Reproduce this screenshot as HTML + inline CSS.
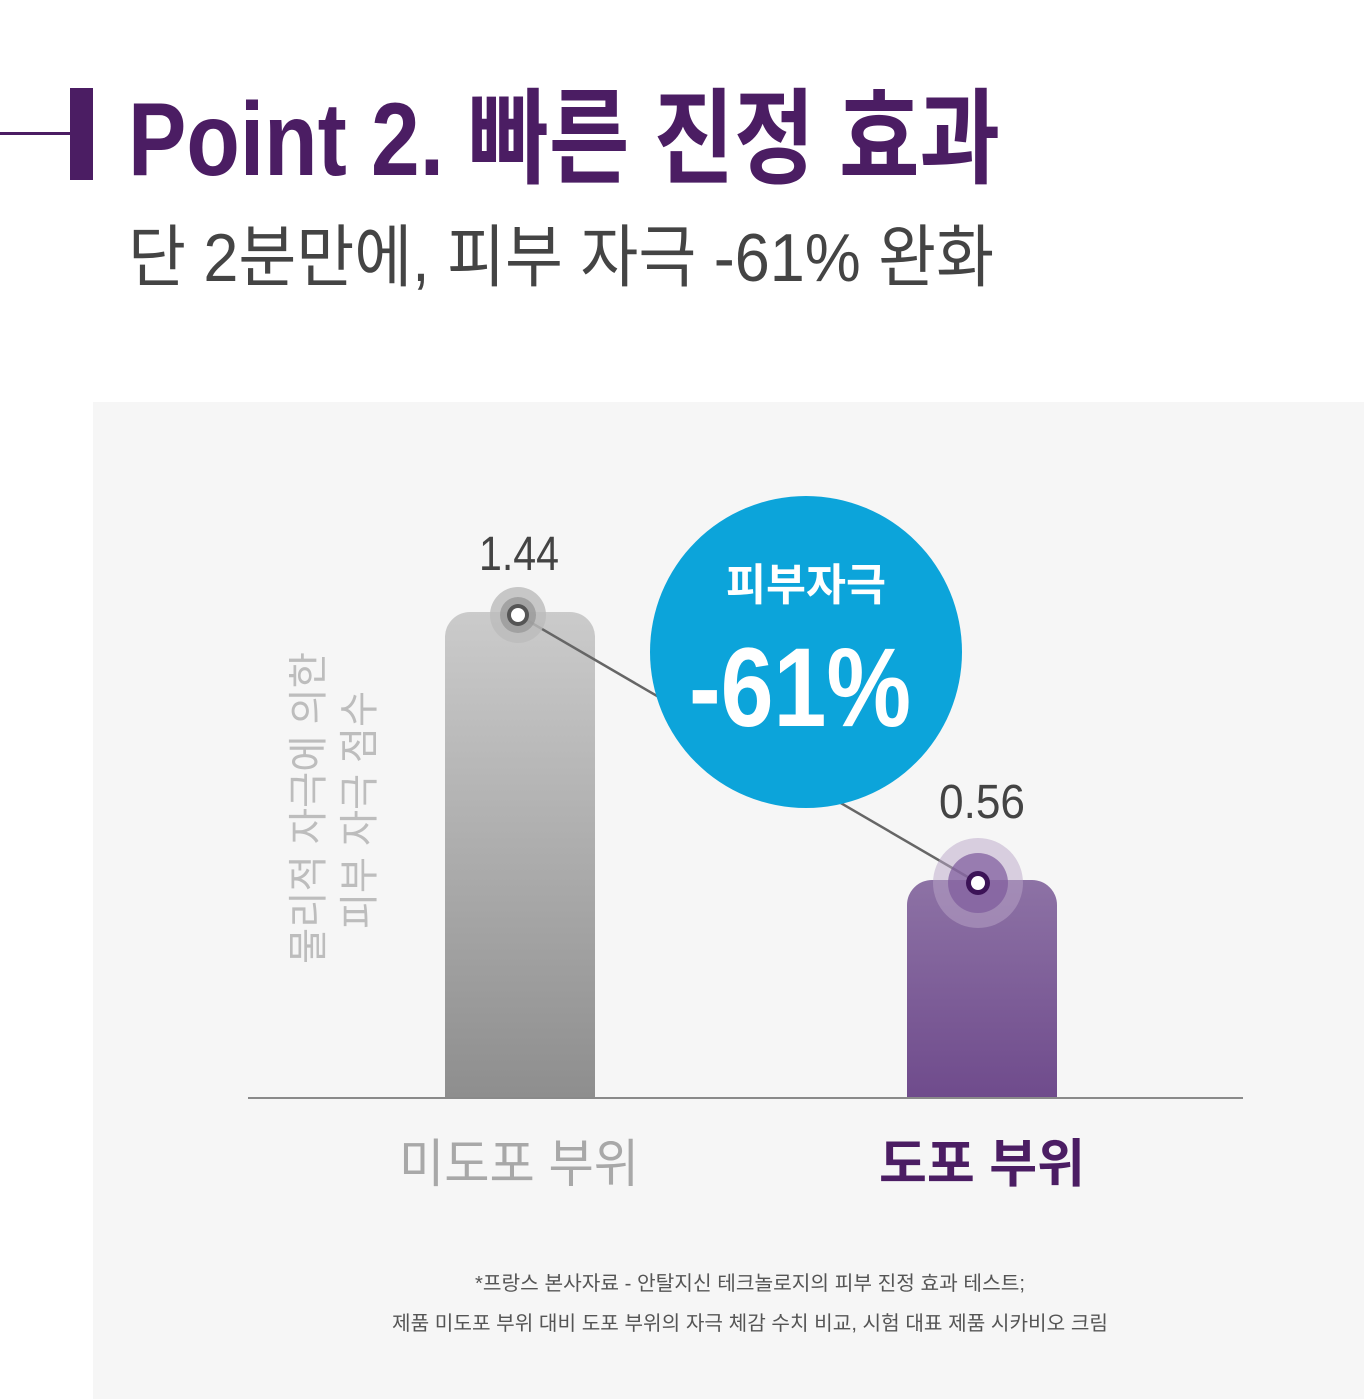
<!DOCTYPE html>
<html><head><meta charset="utf-8">
<style>
html,body{margin:0;padding:0;background:#fff;}
svg{display:block;}
text{font-family:"Liberation Sans","Noto Sans CJK KR",sans-serif;}
</style></head>
<body>
<svg width="1364" height="1399" viewBox="0 0 1364 1399" xmlns="http://www.w3.org/2000/svg">
<defs>
<linearGradient id="g1" x1="0" y1="0" x2="0" y2="1">
<stop offset="0" stop-color="#cbcbcb"/><stop offset="1" stop-color="#8e8e8e"/></linearGradient>
<linearGradient id="g2" x1="0" y1="0" x2="0" y2="1">
<stop offset="0" stop-color="#8d72a5"/><stop offset="1" stop-color="#6f4b8c"/></linearGradient>
</defs>
<rect x="0" y="0" width="1364" height="1399" fill="#fff"/>
<rect x="93" y="402" width="1271" height="997" fill="#f6f6f6"/>
<!-- title -->
<rect x="0" y="132" width="75" height="3" fill="#4b1d63"/>
<rect x="70" y="88" width="23" height="92" fill="#4b1d63"/>
<text x="128" y="175" font-size="104" font-weight="bold" fill="#4b1d63" textLength="872" lengthAdjust="spacingAndGlyphs">Point 2. 빠른 진정 효과</text>
<text x="128" y="281" font-size="68" fill="#444" textLength="866" lengthAdjust="spacingAndGlyphs">단 2분만에, 피부 자극 -61% 완화</text>
<!-- axis label -->
<text transform="translate(322,808) rotate(-90)" text-anchor="middle" font-size="40" fill="#bdbdbd" textLength="312" lengthAdjust="spacingAndGlyphs">물리적 자극에 의한</text>
<text transform="translate(373,810) rotate(-90)" text-anchor="middle" font-size="40" fill="#bdbdbd" textLength="238" lengthAdjust="spacingAndGlyphs">피부 자극 점수</text>
<!-- bars -->
<path d="M445,1098 V637 a25,25 0 0 1 25,-25 H570 a25,25 0 0 1 25,25 V1098 Z" fill="url(#g1)"/>
<path d="M907,1098 V905 a25,25 0 0 1 25,-25 H1032 a25,25 0 0 1 25,25 V1098 Z" fill="url(#g2)"/>
<rect x="248" y="1097" width="995" height="2" fill="#8a8a8a"/>
<!-- connector -->
<line x1="518" y1="615" x2="978" y2="883" stroke="#666" stroke-width="2.5"/>
<!-- circle -->
<circle cx="806" cy="652" r="156" fill="#0ca4da"/>
<text x="806" y="600" text-anchor="middle" font-size="44" font-weight="bold" fill="#fff" textLength="160" lengthAdjust="spacingAndGlyphs">피부자극</text>
<text x="800" y="726" text-anchor="middle" font-size="112" font-weight="bold" fill="#fff" textLength="222" lengthAdjust="spacingAndGlyphs">-61%</text>
<!-- dots -->
<circle cx="518" cy="615" r="28" fill="#bcbcbc" opacity="0.8"/>
<circle cx="518" cy="615" r="18" fill="#9a9a9a" opacity="0.8"/>
<circle cx="518" cy="615" r="11" fill="#555"/>
<circle cx="518" cy="615" r="7" fill="#fff"/>
<circle cx="978" cy="883" r="45" fill="#b9a6c8" opacity="0.5"/>
<circle cx="978" cy="883" r="30" fill="#7e5a9b" opacity="0.7"/>
<circle cx="978" cy="883" r="12" fill="#3c1357"/>
<circle cx="978" cy="883" r="7" fill="#fff"/>
<!-- values -->
<text x="519" y="570" text-anchor="middle" font-size="48" fill="#444" textLength="80" lengthAdjust="spacingAndGlyphs">1.44</text>
<text x="982" y="818" text-anchor="middle" font-size="48" fill="#444" textLength="86" lengthAdjust="spacingAndGlyphs">0.56</text>
<!-- x labels -->
<text x="519" y="1182" text-anchor="middle" font-size="52" fill="#a8a8a8" textLength="240" lengthAdjust="spacingAndGlyphs">미도포 부위</text>
<text x="982" y="1182" text-anchor="middle" font-size="52" font-weight="bold" fill="#4b1d63" textLength="206" lengthAdjust="spacingAndGlyphs">도포 부위</text>
<!-- footnote -->
<text x="750" y="1290" text-anchor="middle" font-size="20" fill="#555" textLength="550" lengthAdjust="spacingAndGlyphs">*프랑스 본사자료 - 안탈지신 테크놀로지의 피부 진정 효과 테스트;</text>
<text x="750" y="1330" text-anchor="middle" font-size="20" fill="#555" textLength="716" lengthAdjust="spacingAndGlyphs">제품 미도포 부위 대비 도포 부위의 자극 체감 수치 비교, 시험 대표 제품 시카비오 크림</text>
</svg>
</body></html>
